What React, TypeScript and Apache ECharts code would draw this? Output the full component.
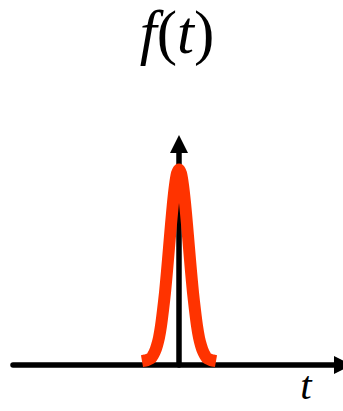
import React, { useEffect, useRef } from "react";
import * as echarts from "echarts";

// Sample points of the pulse f(t), read as (t, f) pairs
const tValues = [
  -1.85, -1.6, -1.5, -1.4, -1.3, -1.2, -1.1, -1.0, -0.9, -0.8, -0.7, -0.6, -0.5,
  -0.4, -0.3, -0.2, -0.1, 0, 0.1, 0.2, 0.3, 0.4, 0.5, 0.6, 0.7, 0.8, 0.9, 1.0,
  1.1, 1.2, 1.3, 1.4, 1.5, 1.6, 1.85,
];
const fValues = [
  0.02, 0.025, 0.03, 0.035, 0.05, 0.07, 0.1, 0.14, 0.2, 0.28, 0.37, 0.48, 0.6,
  0.72, 0.83, 0.92, 0.98, 1.0, 0.98, 0.92, 0.83, 0.72, 0.6, 0.48, 0.37, 0.28,
  0.2, 0.14, 0.1, 0.07, 0.05, 0.035, 0.03, 0.025, 0.02,
];

// Axis extents (t range of the horizontal arrow, f range of the vertical arrow)
const tRange = [-8.3, 8.2];
const fRange = [0, 1.13];

const titleText = "f(t)";
const axisName = "t";

export default function App() {
  const ref = useRef<HTMLDivElement>(null);

  useEffect(() => {
    if (!ref.current) return;
    const chart = echarts.init(ref.current, undefined, { renderer: "svg" });
    const points = tValues.map((t, i) => [t, fValues[i]]);
    const serif = "Liberation Serif";

    const italic = {
      fontFamily: serif,
      fontStyle: "italic",
      fontWeight: "normal",
      fontSize: 61,
      lineHeight: 61,
      color: "#000",
    };
    const roman = { ...italic, fontStyle: "normal" };

    chart.setOption({
      animation: false,
      backgroundColor: "#ffffff",
      title: [
        {
          text: "{i|f}{r|(}{i|t}{r|)}",
          left: 177,
          top: 2,
          padding: 0,
          textAlign: "center",
          textStyle: { ...roman, rich: { i: italic, r: roman } },
        },
        {
          text: axisName,
          left: 306,
          top: 366,
          padding: 0,
          textAlign: "center",
          textStyle: { ...italic, fontSize: 41, lineHeight: 38 },
        },
      ],
      grid: { left: 13, right: 0, top: 144, bottom: 411 - 365, containLabel: false },
      xAxis: {
        type: "value",
        min: tRange[0],
        max: tRange[1],
        axisLine: {
          show: true,
          onZero: true,
          symbol: ["none", "triangle"],
          symbolSize: [18, 18],
          lineStyle: { color: "#000", width: 5.5 },
        },
        axisTick: { show: false },
        axisLabel: { show: false },
        splitLine: { show: false },
      },
      yAxis: {
        type: "value",
        min: fRange[0],
        max: fRange[1],
        axisLine: {
          show: true,
          onZero: true,
          symbol: ["none", "triangle"],
          symbolSize: [18, 18],
          lineStyle: { color: "#000", width: 5.5 },
        },
        axisTick: { show: false },
        axisLabel: { show: false },
        splitLine: { show: false },
      },
      series: [
        {
          name: titleText,
          type: "line",
          data: points,
          showSymbol: false,
          smooth: 0.2,
          clip: false,
          lineStyle: { color: "#ff3300", width: 12, cap: "butt", join: "round" },
          z: 1,
        },
      ],
    });

    return () => chart.dispose();
  }, []);

  return (
    <div
      ref={ref}
      style={{ position: "fixed", left: 0, top: 0, width: 343, height: 411 }}
    />
  );
}
